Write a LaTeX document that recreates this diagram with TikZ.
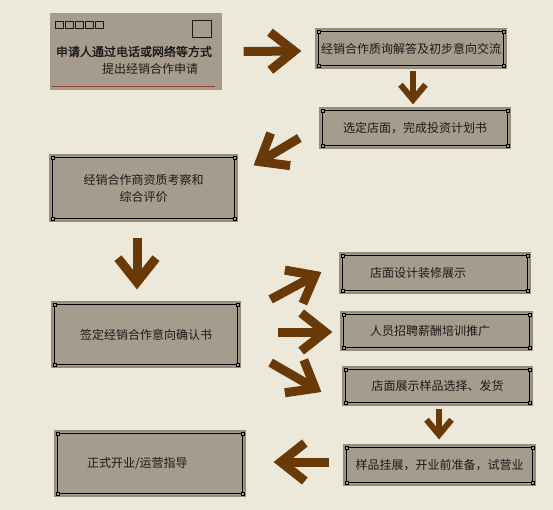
\documentclass[tikz,border=0pt]{standalone}
\usepackage{fontspec}
\setmainfont{Noto Sans CJK SC}
\newfontfamily\cjkbold{Noto Sans CJK SC}[FakeBold=1.8]
\usetikzlibrary{arrows.meta,calc}
\usetikzlibrary{positioning}
\definecolor{paper}{RGB}{236,232,218}
\definecolor{boxfill}{RGB}{166,156,141}
\definecolor{boxedge}{RGB}{150,140,125}
\definecolor{arrowbrown}{RGB}{106,57,8}
\definecolor{inkgray}{RGB}{28,26,24}
\definecolor{postred}{RGB}{150,62,52}
\tikzset{stepcard/.style={fill=boxfill,draw=boxedge,line width=1.2pt,inner sep=0pt,text=inkgray,align=center},
  frameline/.style={draw=black,line width=0.7pt},
  cornermark/.style={draw=black,fill=boxfill,line width=0.5pt},
  flowarrow/.style={draw=arrowbrown,line width=9pt,-{Straight Barb[length=24pt,width=38pt]}},
  smallarrow/.style={draw=arrowbrown,line width=6pt,-{Straight Barb[length=15pt,width=25pt]}}}

\begin{document}
\begin{tikzpicture}[x=1pt,y=-1pt,line join=miter,font=\fontsize{12}{17}\selectfont]
\useasboundingbox[fill=paper] (0,0) rectangle (553,510);
% --- envelope: the application
\node[stepcard,draw=none,minimum width=172pt,minimum height=77pt] (b1) at (136,51.5) {};
\foreach \i in {0,...,4} {\draw[inkgray,line width=0.6pt] (55+\i*10,21) rectangle ++(8,7);}
\draw[inkgray,line width=0.8pt] (192,20) rectangle (211,37);
\draw[postred,line width=0.8pt] (52,86) -- (215,86);
\node[text=inkgray,align=left] (b1txt) at (134,60) {{\cjkbold 申请人通过电话或网络等方式}\\\hspace*{46pt}提出经销合作申请};
% --- the steps
\node[stepcard,minimum width=190pt,minimum height=39pt] (b2) at (411,48.5) {经销合作质询解答及初步意向交流};
\node[stepcard,minimum width=190pt,minimum height=40pt] (b3) at (415,128) {选定店面，完成投资计划书};
\node[stepcard,minimum width=187pt,minimum height=66pt] (b4) at (143.5,188) {经销合作商资质考察和\\综合评价};
\node[stepcard,minimum width=188pt,minimum height=65pt] (b5) at (146,334.5) {签定经销合作意向确认书};
\node[stepcard,align=left,text width=130pt,inner xsep=30pt,minimum height=40pt] (b6) at (435,273) {店面设计装修展示};
\node[stepcard,align=left,text width=133pt,inner xsep=29pt,minimum height=38pt] (b7) at (436.5,331) {人员招聘薪酬培训推广};
\node[stepcard,minimum width=189pt,minimum height=38pt] (b8) at (437.5,386) {店面展示样品选择、发货};
\node[stepcard,minimum width=191pt,minimum height=40pt] (b9) at (439.5,465) {样品挂展，开业前准备，试营业};
\node[stepcard,align=left,text width=126pt,inner xsep=32pt,minimum height=65pt] (b10) at (150,463.5) {正式开业/运营指导};
% inner frames with corner marks
\foreach \n in {b2,b3,b4,b5,b6,b7,b8,b9,b10} {
  \coordinate (fa) at ($(\n.north west)+(3,3)$);
  \coordinate (fb) at ($(\n.south east)+(-3,-3)$);
  \draw[frameline] (fa) rectangle (fb);
  \foreach \p in {(fa),(fb),(fa-|fb),(fa|-fb)} {\draw[cornermark] \p ++(-1.4,-1.4) rectangle ++(2.8,2.8);}
}
% --- arrows
\draw[flowarrow] ($(b1.east)+(21,0)$) -- ($(b2.west)+(-14,2.5)$);
\draw[smallarrow] ($(b2.south)+(2,2)$) -- ($(b3.north)+(-2,-3)$);
\draw[flowarrow] ($(b3.west)+(-20,10)$) -- ($(b4.north east)+(16,11)$);
\draw[flowarrow] ($(b4.south)+(-6.5,16)$) -- ($(b5.north)+(-9,-12)$);
\draw[flowarrow] ($(b5.north east)+(30,-2)$) -- ($(b6.west)+(-18,-1)$);
\draw[flowarrow] ($(b5.east)+(37,-2.5)$) -- ($(b7.west)+(-8,1)$);
\draw[flowarrow] ($(b5.south east)+(30,-5)$) -- ($(b8.west)+(-21,6)$);
\draw[smallarrow] ($(b8.south)+(1.5,3)$) -- ($(b9.north)+(-0.5,-5)$);
\draw[flowarrow] ($(b9.west)+(-14,-3)$) -- ($(b10.east)+(28,-1.5)$);
\end{tikzpicture}
\end{document}
